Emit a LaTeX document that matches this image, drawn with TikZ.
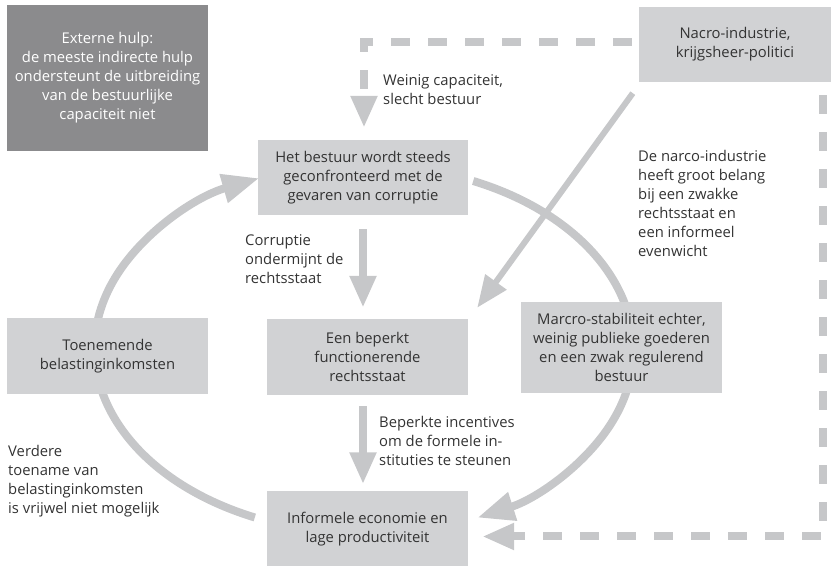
\documentclass[tikz,border=0pt]{standalone}
\usepackage{fontspec}
\setmainfont{Open Sans}
\usepackage{tikz}
\usetikzlibrary{arrows.meta,backgrounds}

\definecolor{boxgray}{HTML}{D1D2D4}
\definecolor{darkbox}{HTML}{8B8B8D}
\definecolor{arrowgray}{HTML}{C6C7C9}
\definecolor{txtgray}{HTML}{333333}

\begin{document}
\begin{tikzpicture}[x=1pt,y=1pt,
    font=\fontsize{14.8}{19}\selectfont,
    box/.style={fill=boxgray, text=txtgray, align=center, inner sep=0pt},
    note/.style={text=txtgray, align=left, anchor=west, inner sep=0pt},
    flow/.style={draw=arrowgray, line width=8pt, -{Triangle[length=32pt,width=25pt]}},
    roundflow/.style={flow, -{Triangle[length=37pt,width=28pt]}},
    dashflow/.style={flow, dash pattern=on 19pt off 18pt}]

    \useasboundingbox (0,0) rectangle (831,567);

    % boxes
    \node[box, fill=darkbox, text=white, minimum width=201pt, minimum height=146pt] (hulp) at (107.5,489)
        {Externe hulp:\\de meeste indirecte hulp\\ondersteunt de uitbreiding\\van de bestuurlijke\\capaciteit niet};
    \node[box, minimum width=192pt, minimum height=75pt] (narco) at (735,522.5) {Nacro-industrie,\\krijgsheer-politici};
    \node[box, minimum width=210pt, minimum height=75pt] (bestuur) at (363,389.5)
        {Het bestuur wordt steeds\\geconfronteerd met de\\gevaren van corruptie};
    \node[box, minimum width=201pt, minimum height=76pt] (rechtsstaat) at (367.5,210) {Een beperkt\\functionerende\\rechtsstaat};
    \node[box, minimum width=201pt, minimum height=76pt] (belasting) at (107.5,211) {Toenemende\\belastinginkomsten};
    \node[box, minimum width=201pt, minimum height=91pt] (macro) at (621.5,219.5)
        {Marcro-stabiliteit echter,\\weinig publieke goederen\\en een zwak regulerend\\bestuur};
    \node[box, minimum width=201pt, minimum height=75pt] (informeel) at (367.5,38) {Informele economie en\\lage productiviteit};

    % texts
    \node[note] (weinig) at (383,477.5) {Weinig capaciteit,\\slecht bestuur};
    \node[note] (corruptie) at (245,308) {Corruptie\\ondermijnt de\\rechtsstaat};
    \node[note] (belang) at (638,364) {De narco-industrie\\heeft groot belang\\bij een zwakke\\rechtsstaat en\\een informeel\\evenwicht};
    \node[note] (incentives) at (379,126) {Beperkte incentives\\om de formele in-\\stituties te steunen};
    \node[note] (verdere) at (8,85.5) {Verdere\\toename van\\belastinginkomsten\\is vrijwel niet mogelijk};

    \begin{scope}[on background layer]
        \draw[roundflow] ([xshift=5pt,yshift=-3.5pt]bestuur.east)
            arc[start angle=66, end angle=-65, x radius=270, y radius=185];
        \draw[roundflow] ([xshift=-12pt,yshift=11.5pt]informeel.west)
            arc[start angle=246, end angle=113, x radius=270, y radius=185];
    \end{scope}

    \draw[flow] ([yshift=-14pt]bestuur.south) -- ([yshift=11pt]bestuur.south |- rechtsstaat.north);
    \draw[flow] ([yshift=-11pt]rechtsstaat.south -| bestuur.south) -- ([yshift=7pt]informeel.north -| bestuur.south);
    \draw[flow, line width=6pt] ([shift={(-6pt,-11pt)}]narco.south west) -- ([shift={(9pt,11pt)}]rechtsstaat.north east);

    \draw[dashflow] ([xshift=-7pt,yshift=2.5pt]narco.west) -| ([xshift=1pt,yshift=12pt]bestuur.north);
    \draw[dashflow] ([xshift=-8pt,yshift=-13pt]narco.south east) |- ([xshift=14pt,yshift=-7.5pt]informeel.east);
\end{tikzpicture}
\end{document}
